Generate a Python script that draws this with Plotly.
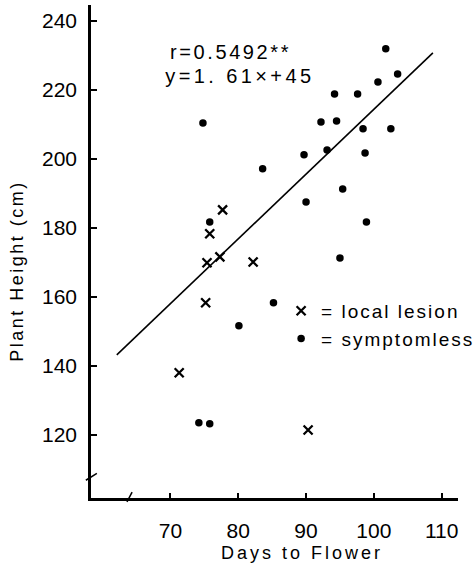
import plotly.graph_objects as go

# ---- data ----
lesion_days = [77.7, 75.8, 75.4, 77.3, 82.2, 75.2, 71.3, 90.3]
lesion_height = [185.2, 178.3, 169.9, 171.6, 170.1, 158.3, 138.0, 121.4]

symptomless_days = [101.75, 103.5, 100.6, 94.2, 97.6, 92.2, 94.5, 98.4, 102.5, 93.1,
                    89.7, 98.7, 95.4, 90.0, 98.9, 95.0, 74.8, 83.6, 75.8, 85.2,
                    80.1, 74.2, 75.8]
symptomless_height = [231.9, 224.6, 222.3, 218.8, 218.8, 210.7, 211.0, 208.7, 208.7, 202.6,
                      201.2, 201.7, 191.3, 187.5, 181.7, 171.3, 210.4, 197.1, 181.7, 158.3,
                      151.6, 123.5, 123.2]

fit_days = [62.1, 108.7]
fit_height = [143.2, 230.7]

x_ticks = [70, 80, 90, 100, 110]
y_ticks = [120, 140, 160, 180, 200, 220, 240]

stat_r = "r=0.5492**"
stat_eq = "y=1. 61×+45"
x_title = "Days to Flower"
y_title = "Plant Height (cm)"

TEXT_FONT = "Liberation Sans, Arial, sans-serif"
NUM_FONT = "Liberation Sans Narrow, Arial Narrow, Liberation Sans, Arial, sans-serif"

fig = go.Figure()
fig.add_trace(go.Scatter(x=fit_days, y=fit_height, mode="lines",
                         line=dict(color="black", width=1.6), showlegend=False,
                         hoverinfo="skip"))
fig.add_trace(go.Scatter(x=lesion_days, y=lesion_height, mode="markers",
                         name="= local lesion",
                         marker=dict(symbol="x-thin-open", size=9, color="black",
                                     line=dict(width=2.3, color="black"))))
fig.add_trace(go.Scatter(x=symptomless_days, y=symptomless_height, mode="markers",
                         name="= symptomless",
                         marker=dict(symbol="circle", size=7.5, color="black")))

fig.update_layout(
    width=475, height=572,
    margin=dict(l=91, r=17, t=5, b=74),
    paper_bgcolor="white", plot_bgcolor="white",
    font=dict(family=TEXT_FONT, color="black", size=18),
    legend=dict(x=0.518, xanchor="left", y=0.418, yanchor="top",
                font=dict(family=TEXT_FONT, size=19, color="black"),
                bgcolor="rgba(0,0,0,0)", itemwidth=30, tracegroupgap=0),
    annotations=[
        dict(text=stat_r, xref="paper", yref="paper", x=0.244, y=0.905,
             xanchor="left", yanchor="middle", showarrow=False,
             font=dict(family=TEXT_FONT, size=20, color="black")),
        dict(text=stat_eq, xref="paper", yref="paper", x=0.247, y=0.856,
             xanchor="left", yanchor="middle", showarrow=False,
             font=dict(family=TEXT_FONT, size=20, color="black")),
        dict(text=x_title, xref="paper", yref="paper", x=0.575, y=-0.112,
             xanchor="center", yanchor="middle", showarrow=False,
             font=dict(family=TEXT_FONT, size=18, color="black")),
        dict(text=y_title, xref="paper", yref="paper", x=-0.201, y=0.46,
             xanchor="center", yanchor="middle", showarrow=False, textangle=-90,
             font=dict(family=TEXT_FONT, size=18, color="black")),
    ],
    shapes=[
        # small axis-break strokes, as drawn in the original figure
        dict(type="line", xref="paper", yref="paper", x0=-0.014, x1=0.016,
             y0=0.036, y1=0.050, line=dict(color="black", width=1.5)),
        dict(type="line", xref="paper", yref="paper", x0=0.098, x1=0.112,
             y0=-0.008, y1=0.012, line=dict(color="black", width=1.5)),
    ],
)

fig.update_xaxes(range=[58.3, 112.4], tickvals=x_ticks, ticktext=[str(v) for v in x_ticks],
                 showgrid=False, zeroline=False, showline=True, linecolor="black",
                 linewidth=2.5, ticks="inside", ticklen=5, tickwidth=1.5, tickcolor="black",
                 tickfont=dict(family=NUM_FONT, size=21, color="black"),
                 ticklabelstandoff=12)
fig.update_yaxes(range=[101.7, 244.6], tickvals=y_ticks, ticktext=[str(v) for v in y_ticks],
                 showgrid=False, zeroline=False, showline=True, linecolor="black",
                 linewidth=2.5, ticks="inside", ticklen=6, tickwidth=1.5, tickcolor="black",
                 tickfont=dict(family=NUM_FONT, size=21, color="black"),
                 ticklabelstandoff=7)

post = """
var gd = document.getElementById('{plot_id}');
gd.querySelectorAll('.legend [clip-path]').forEach(function(e){ e.removeAttribute('clip-path'); });
gd.querySelectorAll('.legendtext').forEach(function(e){ e.style.letterSpacing = '2px'; });
var ann = gd.querySelectorAll('.annotation-text');
var sp = ['2.6px', '3.4px', '3px', '2.5px'];
for (var i = 0; i < ann.length && i < sp.length; i++) { ann[i].style.letterSpacing = sp[i]; }
"""

fig.write_html("out.html", post_script=post)
